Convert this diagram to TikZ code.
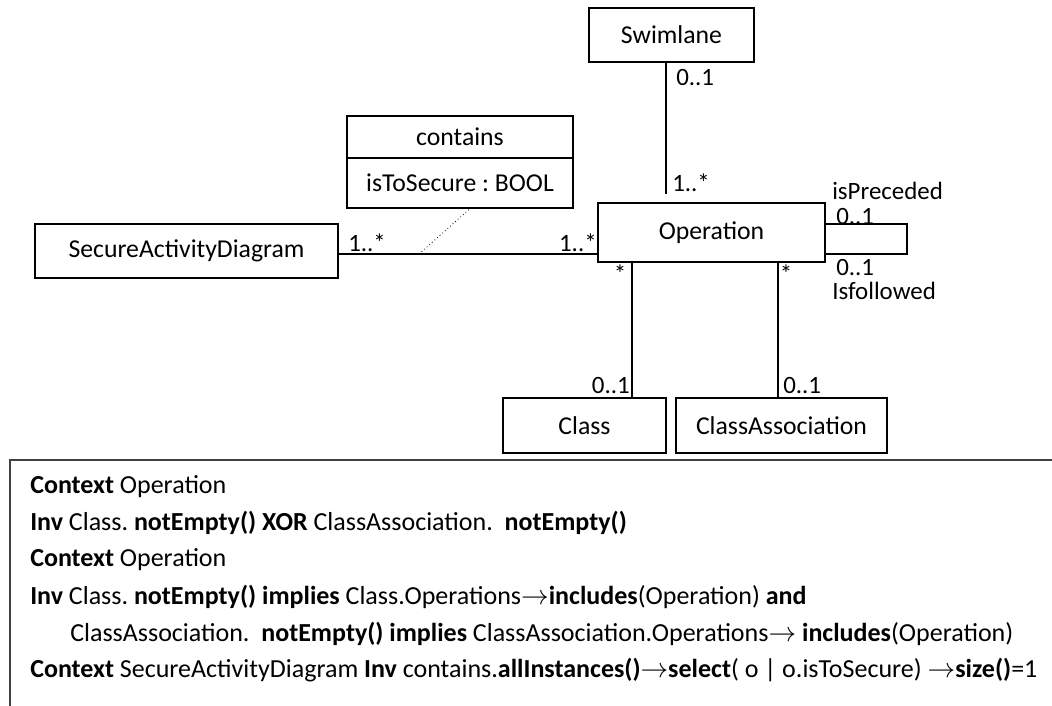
\documentclass[tikz,border=0pt]{standalone}
\usepackage{fontspec}
\setmainfont{Carlito}
\frenchspacing
\begin{document}
\begin{tikzpicture}[x=0.75pt,y=-0.75pt,
  box/.style={draw=black,line width=0.9pt,rectangle,inner sep=0pt,font=\fontsize{19.3}{21}\selectfont},
  lbl/.style={inner sep=0pt,font=\fontsize{18.7}{20}\selectfont},
  line/.style={draw=black,line width=0.9pt},
  ocl/.style={inner sep=0pt,anchor=west,font=\fontsize{19.5}{21}\selectfont}]
\useasboundingbox (0,0) rectangle (1052,706);
% class boxes
\node[box,minimum width=165*0.75pt,minimum height=54*0.75pt] (swim) at (671.5,35) {Swimlane};
\node[box,minimum width=227*0.75pt,minimum height=59*0.75pt] (op) at (711.5,232.5) {Operation};
\node[box,minimum width=303*0.75pt,minimum height=54*0.75pt] (sad) at (186.5,251) {SecureActivityDiagram};
\node[box,minimum width=226*0.75pt,minimum height=42*0.75pt] (cont) at (460,137) {contains};
\node[box,minimum width=226*0.75pt,minimum height=50*0.75pt] (attr) at (460,183) {isToSecure : BOOL};
\node[box,minimum width=163*0.75pt,minimum height=55*0.75pt] (cls) at (584.5,425.5) {Class};
\node[box,minimum width=211*0.75pt,minimum height=55*0.75pt] (ca) at (781.5,425.5) {ClassAssociation};
% connectors
\coordinate (swEnd) at (666,194);
\draw[line] (swim.south -| swEnd) -- (swEnd);
\coordinate (asc) at (419,254);
\draw[line] (sad.east |- asc) -- (op.west |- asc);
\draw[black,line width=0.6pt,dotted] (asc) -- (attr.south -| 470,0);
\coordinate (c1) at (632,0);
\coordinate (c2) at (778,0);
\draw[line] (op.south -| c1) -- (cls.north -| c1);
\draw[line] (op.south -| c2) -- (ca.north -| c2);
\coordinate (l1) at (907,224);
\coordinate (l2) at (907,254);
\draw[line] (op.east |- l1) -- (l1) -- (l2) -- (op.east |- l2);
% multiplicities
\node[lbl,anchor=west] (m1) at (676,78) {0..1};
\node[lbl,anchor=west] (m2) at (672,183) {1..*};
\node[lbl,anchor=west] (m3) at (832,191) {isPreceded};
\node[lbl,anchor=west] (m4) at (836,216.5) {0..1};
\node[lbl,anchor=west] (m5) at (836,268) {0..1};
\node[lbl,anchor=west] (m6) at (832,291) {Isfollowed};
\node[lbl] (m7) at (620,274) {*};
\node[lbl] (m8) at (786,274) {*};
\node[lbl,anchor=west] (m9) at (348,243) {1..*};
\node[lbl,anchor=east] (m10) at (597,243) {1..*};
\node[lbl,anchor=east] (m11) at (630,386) {0..1};
\node[lbl,anchor=west] (m12) at (783,386) {0..1};
% OCL box
\draw[draw=black!75,line width=0.9pt] (1052,460) -- (10,460) -- (10,706);
\node[ocl] (t1) at (30,487) {\textbf{Context} Operation};
\node[ocl] (t2) at (30,523) {\textbf{Inv} Class. \textbf{notEmpty() XOR} ClassAssociation. \ \textbf{notEmpty()}};
\node[ocl] (t3) at (30,560) {\textbf{Context} Operation};
\node[ocl] (t4) at (30,597) {\textbf{Inv} Class. \textbf{notEmpty() implies} Class.Operations$\rightarrow$\textbf{includes}(Operation) \textbf{and}};
\node[ocl] (t5) at (70,634) {ClassAssociation. \ \textbf{notEmpty() implies} ClassAssociation.Operations$\rightarrow$ \textbf{includes}(Operation)};
\node[ocl] (t6) at (30,670) {\textbf{Context} SecureActivityDiagram \textbf{Inv} contains.\textbf{allInstances()}$\rightarrow$\textbf{select}( o | o.isToSecure) $\rightarrow$\textbf{size()}=1};
\end{tikzpicture}
\end{document}
